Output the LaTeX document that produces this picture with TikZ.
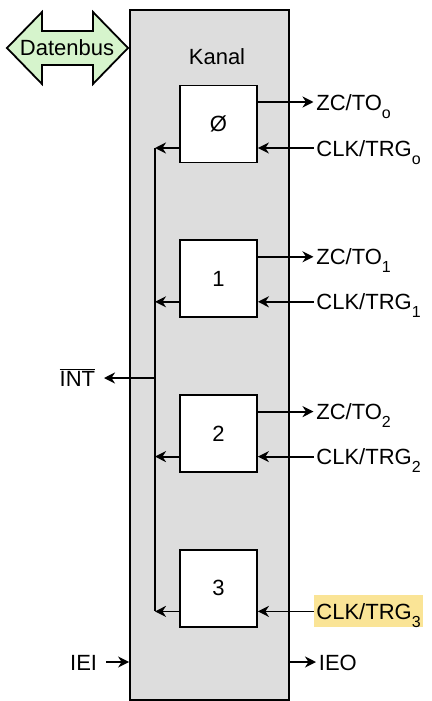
\documentclass[tikz,border=0pt]{standalone}
\usepackage{fontspec}
\setmainfont{Liberation Sans}
\usetikzlibrary{arrows.meta,positioning,calc}

\definecolor{busgreen}{RGB}{214,244,204}
\definecolor{chipgray}{RGB}{221,221,221}
\definecolor{marker}{RGB}{250,228,150}

% channel index, set low and large as printed
\newcommand\chanidx[1]{\raisebox{-8pt}{\fontsize{16}{16}\selectfont #1}}

\begin{document}
\begin{tikzpicture}[
    x=1pt, y=-1pt,
    node distance=76pt,
    line width=1.8pt,
    >={Stealth[length=11pt,width=11pt,inset=3.5pt]},
    every node/.style={font=\fontsize{22}{26}\selectfont},
    chip/.style={draw, fill=chipgray, minimum width=159pt, minimum height=690pt, inner sep=0pt},
    counter/.style={draw, fill=white, minimum width=77pt, minimum height=77pt, inner sep=0pt},
    port/.style={anchor=west, inner sep=2pt, text height=16pt, text depth=0pt},
    portl/.style={port, anchor=east, inner xsep=8pt}
]
\useasboundingbox (0,0) rectangle (431,701);

% ---- chip with the four counter channels ----
\node[chip] (chip) at (209.5,355) {};
\node at (217,57) (kanal) {Kanal};

\node[counter] (ch0) at (218.5,124) {Ø};
\node[counter, below=of ch0] (ch1) {1};
\node[counter, below=of ch1] (ch2) {2};
\node[counter, below=of ch2] (ch3) {3};

% ---- data bus ----
\coordinate (dbus) at (67,48);
\draw[fill=busgreen] ([shift={(-60,0)}]dbus) -- ++(35,-36) -- ++(0,19) -- ++(51,0) -- ++(0,-19)
  -- ++(35,36) -- ++(-35,36) -- ++(0,-19) -- ++(-51,0) -- ++(0,19) -- cycle;
\node (datenbus) at (dbus) {Datenbus};

% ---- outputs / clock inputs ----
\node[port] (zc0) at ($(ch0.center)+(95,-22)$) {ZC/TO\chanidx{o}};
\node[port] (clk0) at ($(ch0.center)+(95,24)$) {CLK/TRG\chanidx{o}};
\node[port] (zc1) at ($(ch1.center)+(95,-22)$) {ZC/TO\chanidx{1}};
\node[port] (clk1) at ($(ch1.center)+(95,23)$) {CLK/TRG\chanidx{1}};
\node[port] (zc2) at ($(ch2.center)+(95,-22)$) {ZC/TO\chanidx{2}};
\node[port] (clk2) at ($(ch2.center)+(95,23)$) {CLK/TRG\chanidx{2}};
\node[port, fill=marker, inner ysep=8pt] (clk3) at ($(ch3.center)+(95,23)$) {CLK/TRG\chanidx{3}};

% ---- interrupt logic ----
\coordinate (bus) at (155,378);
\node[portl] (int) at (104,378) {$\overline{\mbox{INT}}$};
\node[portl] (iei) at (106,662) {IEI};
\node[port] (ieo) at (316,662) {IEO};

% arrows
\draw[->] (ch0.east |- zc0) -- (zc0.west);
\draw[->] (ch1.east |- zc1) -- (zc1.west);
\draw[->] (ch2.east |- zc2) -- (zc2.west);

\draw[->] (clk0.west) -- (clk0 -| ch0.east);
\draw[->] (clk1.west) -- (clk1 -| ch1.east);
\draw[->] (clk2.west) -- (clk2 -| ch2.east);
\draw[->] (clk3.west) -- (clk3 -| ch3.east);

\draw[->] (ch0.west |- clk0) -- (bus |- clk0);
\draw[->] (ch1.west |- clk1) -- (bus |- clk1);
\draw[->] (ch2.west |- clk2) -- (bus |- clk2);
\draw[->] (ch3.west |- clk3) -- (bus |- clk3);
\draw (bus |- clk0) -- (bus |- clk3);

\draw[->] (bus) -- (int.east);
\draw[->] (iei.east) -- (iei -| chip.west);
\draw[->] (ieo -| chip.east) -- (ieo.west);

\end{tikzpicture}
\end{document}
